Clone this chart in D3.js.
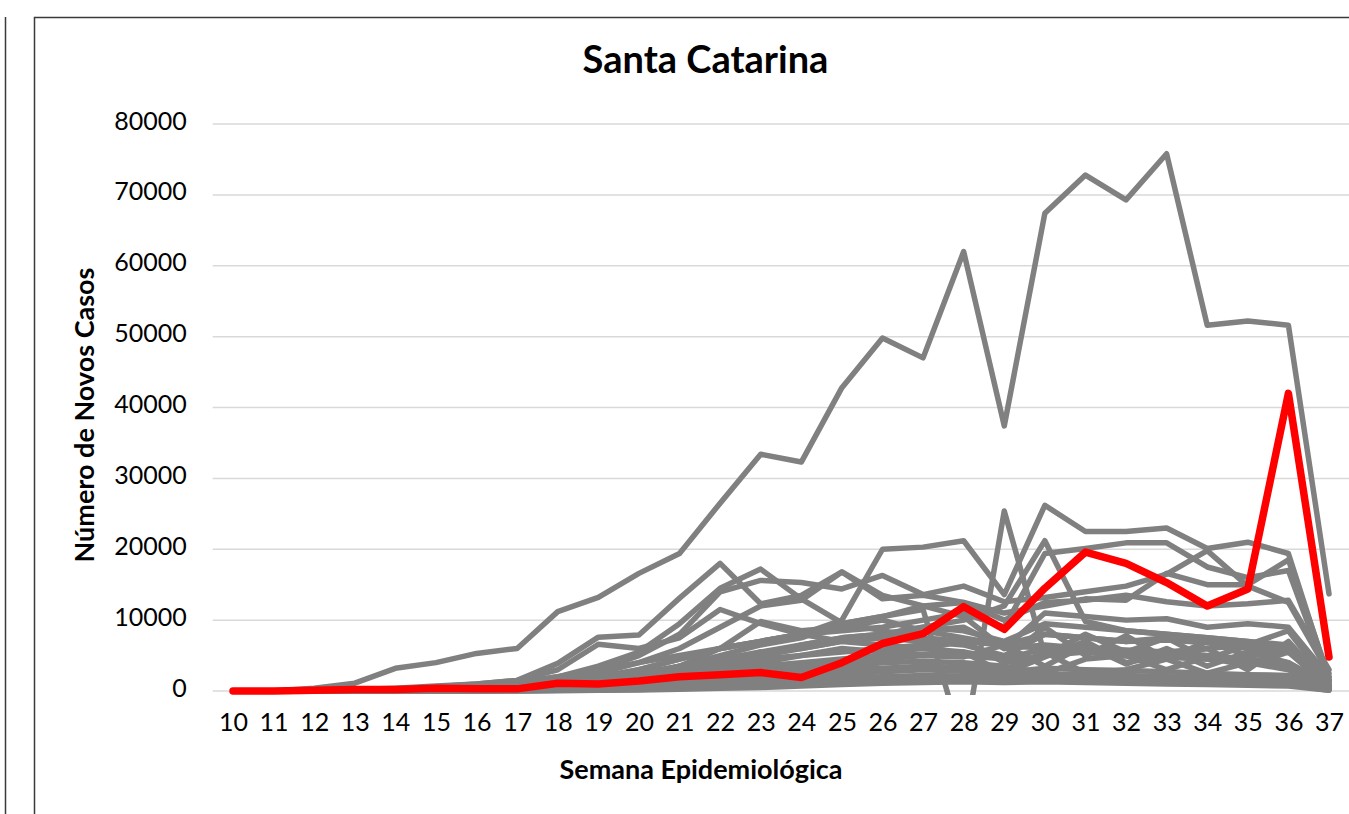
<!DOCTYPE html>
<html>
<head>
<meta charset="utf-8">
<script src="https://cdn.jsdelivr.net/npm/d3@7"></script>
<style>
  html, body { margin: 0; padding: 0; background: #fff; }
  svg { display: block; font-family: Lato, "Open Sans", sans-serif; }
</style>
</head>
<body>
<svg id="chart" width="1349" height="814"></svg>
<script>
/* Santa Catarina vs the other states - weekly new cases (gray = other states, red = SC) */

const weeks = d3.range(10, 38);          // epidemiological weeks 10..37
const yTicks = [0, 10000, 20000, 30000, 40000, 50000, 60000, 70000, 80000];

// highlighted state
const santaCatarina = [0,0,100,200,200,400,300,300,1100,1000,1400,2000,2300,2600,1900,4000,6700,8100,11900,8700,14500,19600,18000,15300,12000,14400,42000,4800];

// other states (one array per state)
const other01 = [0,0,400,1100,3200,4000,5300,6000,11200,13200,16600,19400,26500,33400,32300,42800,49800,47000,62000,37400,67400,72800,69300,75800,51600,52200,51600,13700];
const other02 = [0,0,0,100,200,400,700,1100,2000,3000,4000,5000,6000,7000,8000,10000,20000,20300,21200,13600,26200,22500,22500,23000,20100,21000,19400,1500];
const other03 = [0,0,0,0,100,200,400,700,1200,2000,3000,4500,6000,7000,8000,9500,10500,11500,-8000,25400,5000,5500,5000,4800,4500,4200,3800,800];
const other04 = [0,0,0,0,100,200,300,500,800,1500,2500,3500,4500,5500,6500,7500,8000,9000,10000,12000,21200,9800,8500,8000,7500,7000,6000,1500];
const other05 = [0,0,100,200,400,700,1000,1500,3900,7600,7900,13100,18000,12300,13500,16800,13500,12000,10500,6000,6500,6000,5800,5500,5000,4500,4000,900];
const other06 = [0,0,0,100,200,400,800,1200,2000,3500,5500,9500,14500,17200,13000,9600,8500,7500,7000,6500,6000,5500,5000,4800,4500,4000,3500,700];
const other07 = [0,0,0,100,200,400,700,1100,1800,3000,5000,8000,14000,15600,15300,14400,16300,13600,14800,12600,13200,14000,14800,16500,19800,14800,12500,2500];
const other08 = [0,0,0,0,100,200,400,800,1500,2500,4000,6000,9000,12000,12800,16800,13000,13500,12500,11000,12000,13000,12800,16600,15000,15000,18500,2000];
const other09 = [0,0,0,0,100,200,300,600,1000,1800,3000,4500,6000,7000,8000,8500,9000,10000,11000,9000,19400,20100,20900,20900,17500,16000,17000,1500];
const other10 = [0,0,0,0,100,200,300,500,900,1500,2200,3500,5000,6500,7500,9500,10500,12000,12500,10000,12500,12800,13500,12600,12000,12300,12800,3000];
const other11 = [0,0,0,0,100,200,300,400,700,1200,2000,3000,4000,5000,6000,7000,8000,8500,9000,6000,11000,10500,10000,10200,9000,9500,9000,2000];
const other12 = [0,0,0,0,100,200,300,500,800,1300,2000,3500,6000,9800,8500,9000,10000,8500,7500,6500,8000,7500,7000,7500,7000,6500,6000,1500];
const other13 = [0,0,0,100,300,600,1000,1500,3000,6600,6000,7500,11500,9500,8000,7000,6500,6000,5500,4500,6000,5500,5000,5500,6000,6500,6000,1500];
const other14 = [0,0,0,0,100,200,400,600,1000,1500,2200,3000,4000,5000,6500,7500,8000,9000,8500,7000,9500,9000,8500,8000,7500,7000,6500,1500];
const other15 = [0,0,0,0,100,200,300,500,800,1200,2000,3000,4000,5500,6000,7000,7500,7000,6500,5000,8000,7500,7000,7200,6800,6000,5500,1200];
const other16 = [0,0,0,0,0,100,200,300,500,800,1200,2000,3000,4000,5000,6000,5500,6000,7000,4000,5000,8000,5500,7500,4500,6500,8500,1000];
const other17 = [0,0,0,0,0,100,200,300,600,1000,1500,2500,3500,4500,5000,5500,6000,6500,5000,4500,9000,5000,7800,4500,7000,5000,6000,800];
const other18 = [0,0,0,0,0,100,150,250,400,700,1000,1800,2500,3500,4000,4500,5000,5200,5500,2500,4800,7000,4000,5000,6000,3000,7000,700];
const other19 = [0,0,0,0,0,50,100,200,400,600,900,1500,2000,3000,3500,4200,4500,5000,4800,6500,3500,6500,3800,6000,3500,5500,4000,600];
const other20 = [0,0,0,0,0,50,100,200,300,500,800,1200,1800,2500,3000,3500,4000,4200,4000,3500,2500,4500,5000,3000,4800,3500,5500,500];
const other21 = [0,0,0,0,0,50,100,150,250,400,600,1000,1500,2000,2500,3000,3200,3500,3300,3000,5500,2500,3000,4500,2500,4000,3000,400];
const other22 = [0,0,0,0,0,0,50,100,200,300,500,800,1200,1600,2000,2400,2700,3000,2800,2600,3200,3000,2900,2700,2500,2300,2200,300];
const other23 = [0,0,0,0,0,0,50,100,150,250,400,600,900,1200,1500,1800,2000,2200,2100,2000,2400,2300,2200,2000,1900,1800,1700,200];
const other24 = [0,0,0,0,0,0,0,50,100,200,300,500,700,900,1100,1300,1500,1700,1600,1500,1800,1700,1600,1500,1400,1300,1200,200];
const other25 = [0,0,0,0,0,0,0,50,100,150,200,350,500,700,900,1100,1300,1500,1400,1400,1500,1400,1300,1200,1100,1000,900,100];
const other26 = [0,0,0,0,0,0,0,0,50,100,150,250,400,500,700,900,1100,1200,1300,1200,1300,1200,1100,1000,900,800,700,100];

const otherStates = [other01, other02, other03, other04, other05, other06, other07, other08, other09,
  other10, other11, other12, other13, other14, other15, other16, other17, other18, other19,
  other20, other21, other22, other23, other24, other25, other26];

const svg = d3.select("#chart");

// chart frames (this chart + the edge of the neighbouring one on the left)
svg.append("rect").attr("x", 34.5).attr("y", 17.5).attr("width", 1400).attr("height", 900)
    .attr("fill", "none").attr("stroke", "#3a3a3a").attr("stroke-width", 1.5);
svg.append("line").attr("x1", 5.5).attr("x2", 5.5).attr("y1", 17).attr("y2", 814)
    .attr("stroke", "#3a3a3a").attr("stroke-width", 1.5);

const plotLeft = 212.7, plotRight = 1349.3, plotTop = 124, plotBottom = 691;

const x = d3.scalePoint().domain(weeks).range([plotLeft, plotRight]).padding(0.5);
const y = d3.scaleLinear().domain([0, 80000]).range([plotBottom, plotTop]);

// horizontal gridlines
svg.append("g").selectAll("line").data(yTicks).join("line")
    .attr("x1", plotLeft).attr("x2", plotRight)
    .attr("y1", d => y(d)).attr("y2", d => y(d))
    .attr("stroke", "#d9d9d9").attr("stroke-width", 1.5);

// axes (labels only)
const yAxis = svg.append("g").attr("transform", `translate(${plotLeft},0)`)
    .call(d3.axisLeft(y).tickValues(yTicks).tickSize(0).tickPadding(26).tickFormat(d3.format("d")));
const xAxis = svg.append("g").attr("transform", `translate(0,${plotBottom})`)
    .call(d3.axisBottom(x).tickSize(0).tickPadding(22));
[yAxis, xAxis].forEach(a => {
  a.select(".domain").remove();
  a.selectAll("text").attr("font-size", 25).attr("fill", "#000").attr("font-family", "Lato, sans-serif");
});
yAxis.selectAll("text").attr("dy", "0.2em");

// lines are clipped at the bottom of the plot area (negative values disappear)
svg.append("clipPath").attr("id", "plotClip").append("rect")
    .attr("x", plotLeft).attr("y", 0).attr("width", plotRight - plotLeft).attr("height", plotBottom + 4);

const line = d3.line().x((d, i) => x(weeks[i])).y(d => y(d));
const plot = svg.append("g").attr("clip-path", "url(#plotClip)");

plot.selectAll("path.other").data(otherStates).join("path")
    .attr("class", "other")
    .attr("d", line)
    .attr("fill", "none").attr("stroke", "#808080").attr("stroke-width", 5.5)
    .attr("stroke-linejoin", "round").attr("stroke-linecap", "round");

plot.append("path").datum(santaCatarina)
    .attr("d", line)
    .attr("fill", "none").attr("stroke", "#ff0000").attr("stroke-width", 7.5)
    .attr("stroke-linejoin", "round").attr("stroke-linecap", "round");

// titles
svg.append("text").attr("x", 705.5).attr("y", 73).attr("text-anchor", "middle")
    .attr("font-size", 38).attr("font-weight", "bold").text("Santa Catarina");
svg.append("text").attr("transform", "translate(94,415) rotate(-90)").attr("text-anchor", "middle")
    .attr("font-size", 27).attr("font-weight", "bold").text("Número de Novos Casos");
svg.append("text").attr("x", 701).attr("y", 779).attr("text-anchor", "middle")
    .attr("font-size", 27).attr("font-weight", "bold").text("Semana Epidemiológica");
</script>
</body>
</html>
